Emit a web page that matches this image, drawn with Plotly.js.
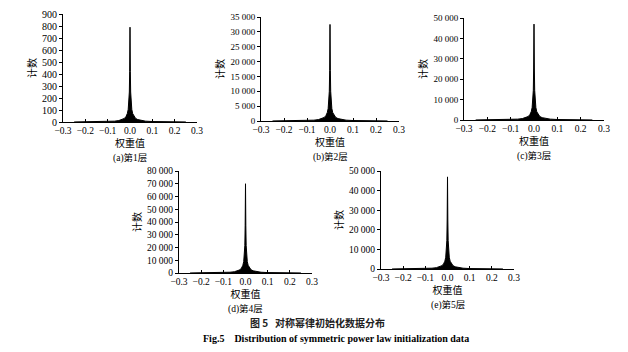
<!DOCTYPE html>
<html>
<head>
<meta charset="utf-8">
<script src="https://cdn.plot.ly/plotly-3.0.1.min.js"></script>
<style>html,body{margin:0;padding:0;background:#fff;}#chart{width:628px;height:352px;}</style>
</head>
<body>
<div id="chart"></div>
<script>
// Weight-value bin positions (权重值)
const weightBins = [-0.25, -0.2, -0.15, -0.1, -0.07, -0.05, -0.035, -0.025, -0.018, -0.012, -0.008, -0.005, -0.003, -0.0015, 0,
  0.0015, 0.003, 0.005, 0.008, 0.012, 0.018, 0.025, 0.035, 0.05, 0.07, 0.1, 0.15, 0.2, 0.25];

// Counts (计数) per layer
const layer1Counts = [0.5, 1, 2, 4, 7, 12, 20, 30, 45, 70, 105, 160, 250, 420, 790,
  420, 250, 160, 105, 70, 45, 30, 20, 12, 7, 4, 2, 1, 0.5];
const layer2Counts = [20, 40, 80, 160, 280, 480, 800, 1200, 1800, 2800, 4200, 6400, 10000, 17000, 32500,
  17000, 10000, 6400, 4200, 2800, 1800, 1200, 800, 480, 280, 160, 80, 40, 20];
const layer3Counts = [30, 60, 120, 240, 420, 700, 1150, 1700, 2600, 4000, 6100, 9300, 14500, 25000, 47000,
  25000, 14500, 9300, 6100, 4000, 2600, 1700, 1150, 700, 420, 240, 120, 60, 30];
const layer4Counts = [40, 80, 170, 340, 600, 1000, 1700, 2500, 3900, 6000, 9000, 13800, 21500, 37000, 70000,
  37000, 21500, 13800, 9000, 6000, 3900, 2500, 1700, 1000, 600, 340, 170, 80, 40];
const layer5Counts = [30, 60, 120, 230, 410, 690, 1120, 1700, 2600, 3950, 6000, 9200, 14500, 25000, 47000,
  25000, 14500, 9200, 6000, 3950, 2600, 1700, 1120, 690, 410, 230, 120, 60, 30];

const panelCaptions = ['(a)第1层', '(b)第2层', '(c)第3层', '(d)第4层', '(e)第5层'];
const xTickVals = [-0.3, -0.2, -0.1, 0.0, 0.1, 0.2, 0.3];
const yRanges = [[0, 900], [0, 35000], [0, 50000], [0, 80000], [0, 50000]];
const yDticks = [100, 5000, 10000, 10000, 10000];
const xTitle = '权重值';
const yTitle = '计数';
const figTitleCn = '图 5   对称幂律初始化数据分布';
const figTitleEn = 'Fig.5    Distribution of symmetric power law initialization data';

const W = 628, H = 352;
// pixel boxes: [x0, x1, yTop, yBottom]
const boxes = [
  [63, 197, 14, 122],
  [261, 399, 17, 121],
  [464, 604, 18, 120],
  [179, 312, 171, 273],
  [381, 514, 171, 269]
];
const yTickSizes = [10, 9, 9, 9.5, 9.5];
const serif = 'Liberation Serif, Times New Roman, serif';
const cjk = 'Liberation Serif, Noto Sans CJK SC, serif';

const series = [layer1Counts, layer2Counts, layer3Counts, layer4Counts, layer5Counts];
const data = series.map((c, i) => ({
  type: 'scatter', mode: 'lines', x: weightBins, y: c,
  xaxis: i === 0 ? 'x' : 'x' + (i + 1), yaxis: i === 0 ? 'y' : 'y' + (i + 1),
  fill: 'tozeroy', fillcolor: '#000', line: {color: '#000', width: 1},
  hoverinfo: 'skip', showlegend: false
}));

const layout = {
  width: W, height: H, margin: {l: 0, r: 0, t: 0, b: 0},
  paper_bgcolor: '#fff', plot_bgcolor: 'rgba(0,0,0,0)',
  separators: '. ', showlegend: false, annotations: []
};

boxes.forEach((b, i) => {
  const xs = i === 0 ? '' : String(i + 1);
  layout['xaxis' + xs] = {
    domain: [b[0] / W, b[1] / W], anchor: 'y' + xs, range: [-0.3, 0.3],
    tickvals: xTickVals, tickformat: '.1f', ticks: 'inside', ticklen: 3, tickcolor: '#000',
    showline: true, linecolor: '#000', linewidth: 1, showgrid: false, zeroline: false,
    tickfont: {family: serif, size: 9.5, color: '#000'},
    title: {text: xTitle, font: {family: cjk, size: 10, color: '#000'}, standoff: 4}
  };
  layout['yaxis' + xs] = {
    domain: [1 - b[3] / H, 1 - b[2] / H], anchor: 'x' + xs, range: yRanges[i],
    dtick: yDticks[i], tick0: 0, separatethousands: true, exponentformat: 'none',
    ticks: 'outside', ticklen: 3, tickcolor: '#000',
    showline: true, linecolor: '#000', linewidth: 1, showgrid: false, zeroline: false,
    tickfont: {family: serif, size: yTickSizes[i], color: '#000'},
    title: {text: yTitle, font: {family: cjk, size: 10, color: '#000'}, standoff: 3}
  };
  layout.annotations.push({
    xref: 'paper', yref: 'paper', x: (b[0] + b[1]) / 2 / W, y: 1 - (b[3] + 36) / H,
    text: panelCaptions[i], showarrow: false, xanchor: 'center', yanchor: 'middle',
    font: {family: cjk, size: 9.5, color: '#000'}
  });
});

layout.annotations.push({
  xref: 'paper', yref: 'paper', x: 317 / W, y: 1 - 322 / H, text: '<b>' + figTitleCn + '</b>',
  showarrow: false, xanchor: 'center', yanchor: 'middle',
  font: {family: 'Noto Sans CJK SC, sans-serif', size: 10, color: '#222'}
});
layout.annotations.push({
  xref: 'paper', yref: 'paper', x: 336 / W, y: 1 - 338 / H, text: '<b>' + figTitleEn + '</b>',
  showarrow: false, xanchor: 'center', yanchor: 'middle',
  font: {family: serif, size: 10, color: '#000'}
});

Plotly.newPlot('chart', data, layout, {staticPlot: true, displayModeBar: false});
</script>
</body>
</html>
